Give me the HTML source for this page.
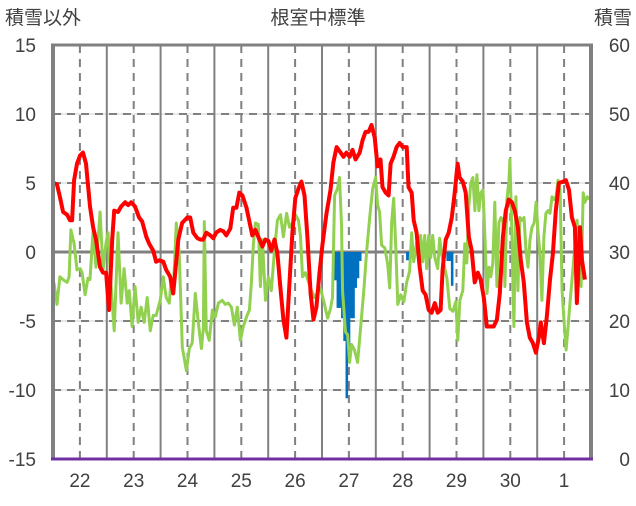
<!DOCTYPE html>
<html><head><meta charset="utf-8"><style>
body{margin:0;background:#fff;}
svg text{font-family:"Liberation Sans","Noto Sans CJK JP",sans-serif;fill:#404040;}
</style></head><body>
<svg id="c" width="636" height="501" viewBox="0 0 636 501">
<g id="grid"></g>
<g id="bars"></g>
<g id="lines"></g>
<g id="axes"></g>
<text x="318" y="24" font-size="19" text-anchor="middle">根室中標準</text>
<text x="5" y="24" font-size="19">積雪以外</text>
<text x="632" y="24" font-size="19" text-anchor="end">積雪</text>
</svg>
<script>
const days = ["22","23","24","25","26","27","28","29","30","1"];
const leftTicks = [15,10,5,0,-5,-10,-15];
const rightTicks = [60,50,40,30,20,10,0];
const redT = [0.4,1.8,3.1,4.5,6.3,7.6,8.5,9.4,10.7,12.1,13.4,14.7,16.5,17.9,19.2,21.0,22.3,23.7,25.0,26.4,27.3,29.0,30.4,32.2,33.5,34.9,36.6,38.4,39.8,41.6,42.9,44.7,46.0,47.4,49.2,50.5,52.3,53.6,54.5,55.9,57.6,59.9,61.2,62.6,64.4,65.7,67.0,68.4,70.2,71.5,72.8,74.6,76.0,77.3,79.1,80.4,81.8,83.1,84.5,86.3,87.6,88.9,90.3,91.6,93.4,94.7,96.1,97.4,98.8,100.1,101.4,102.8,104.1,105.5,106.8,108.1,109.5,110.8,112.2,113.5,114.9,116.2,117.5,118.9,120.2,122.0,123.8,125.1,126.5,128.3,129.6,130.9,132.3,133.6,135.0,136.8,138.1,139.4,140.8,142.1,143.5,144.8,146.1,147.0,148.4,149.7,150.6,151.9,153.3,154.6,156.0,157.8,158.6,160.0,160.9,162.2,163.6,164.9,166.2,167.6,168.9,170.3,171.6,172.9,173.8,175.2,176.5,177.9,179.2,180.5,181.4,182.8,184.1,185.5,186.8,188.1,189.5,190.8,192.2,193.5,195.3,196.6,198.0,199.3,200.7,202.0,203.3,204.7,206.0,207.4,208.7,210.0,211.4,212.7,214.1,215.4,216.7,217.6,219.0,220.3,221.7,223.0,224.3,225.7,227.5,228.8,230.2,231.5,232.8,233.7,235.1,236.0,237.3];
const redV = [5.0,4.9,4.0,2.9,2.7,2.3,2.3,5.2,6.4,7.0,7.2,6.4,3.3,1.8,0.9,-1.1,-1.5,-1.5,-4.2,0.9,3.0,2.9,3.3,3.6,3.4,3.6,3.3,2.5,2.2,1.1,0.6,0.1,-0.7,-0.6,-0.7,-1.3,-1.8,-3.0,-1.5,0.9,2.1,2.5,2.5,1.4,1.0,0.9,0.9,1.4,1.2,1.0,1.4,1.6,1.5,1.2,1.7,3.2,3.2,4.3,4.1,3.2,2.2,1.2,1.6,1.1,0.4,0.9,0.8,0.1,0.9,-0.1,-2.5,-4.9,-6.2,-2.2,1.4,3.9,4.6,5.1,4.1,1.1,-3.0,-4.9,-4.0,-1.5,0.5,2.8,4.5,6.5,7.6,7.2,6.9,7.2,6.9,7.4,6.7,7.2,8.1,8.7,8.7,9.2,8.3,6.2,6.7,4.7,4.3,4.1,6.4,6.9,7.6,7.9,7.6,7.6,4.7,4.3,2.3,1.4,-1.1,-2.8,-3.1,-4.2,-4.4,-3.7,-4.4,-4.2,-1.3,0.9,1.4,2.5,4.3,6.4,5.4,5.1,4.3,1.1,0.1,-2.2,-1.5,-2.0,-3.3,-5.4,-5.4,-5.4,-4.9,-3.0,1.1,3.0,3.8,3.6,3.0,1.8,-0.6,-2.2,-5.1,-6.2,-6.6,-7.3,-6.2,-5.1,-6.6,-4.7,-2.0,-0.1,3.0,5.0,5.1,5.2,4.5,2.5,1.8,-3.7,1.8,-0.6,-2.0];
const greenT = [0.4,1.8,3.1,4.5,6.3,7.2,8.0,9.4,10.7,12.1,13.0,14.3,15.6,16.5,17.9,19.2,21.0,22.3,23.7,24.6,25.5,27.3,29.0,30.4,31.7,33.1,34.0,35.3,36.6,38.0,39.3,40.7,42.0,43.4,44.7,46.0,47.8,49.2,50.5,51.9,52.7,53.6,55.0,56.3,57.7,59.5,60.8,62.1,63.5,64.8,66.2,67.1,67.5,68.4,69.7,71.1,72.4,73.8,75.5,76.9,78.2,79.6,80.9,82.2,83.6,84.9,86.3,87.6,88.5,89.4,90.3,91.6,92.5,93.4,94.8,96.1,97.4,98.8,100.1,101.5,102.8,104.2,105.5,106.8,108.2,109.5,110.4,111.3,112.6,114.0,115.3,116.7,119.3,121.1,122.5,123.8,124.7,125.6,126.9,127.8,128.7,129.2,130.5,131.4,132.3,133.2,134.5,135.9,137.2,138.6,139.9,141.3,142.6,143.9,144.8,145.7,146.6,148.0,149.3,150.2,151.1,152.0,152.9,153.8,155.1,156.5,157.8,159.1,160.0,160.9,162.3,163.2,164.0,164.9,165.8,166.7,167.6,168.5,169.4,170.3,171.6,172.5,173.4,174.8,175.7,177.0,178.4,179.7,180.6,181.5,182.8,183.7,184.6,185.5,186.4,187.3,188.2,189.1,190.0,190.9,191.8,192.7,193.6,194.5,195.3,196.2,197.1,198.0,198.9,199.8,200.7,201.6,202.5,203.4,203.8,204.7,205.6,206.5,207.4,208.3,209.2,210.1,211.0,211.9,212.8,213.7,214.6,215.5,216.4,217.2,218.1,219.0,219.9,220.8,221.7,222.6,223.5,224.4,225.3,226.2,227.1,228.0,228.9,229.8,230.7,232.0,232.9,233.8,234.7,235.6,236.5,237.3,238.3,239.1];
const greenV = [-2.2,-3.8,-1.8,-2.0,-2.2,-1.8,1.6,0.6,-1.3,-1.2,-1.5,-3.1,-1.9,-2.0,1.6,-1.1,2.9,-1.3,0.7,1.4,-1.5,-5.7,1.4,-3.7,-1.2,-3.7,-2.8,-5.4,-2.5,-5.1,-4.0,-5.1,-3.3,-5.7,-4.6,-4.6,-3.5,-1.8,-3.3,-3.7,-2.0,-3.0,2.1,-0.1,-6.9,-8.6,-7.0,-6.6,-3.0,-5.1,-7.0,-5.5,2.2,-5.7,-6.4,-4.2,-4.7,-3.7,-3.5,-3.8,-3.7,-4.0,-5.3,-4.0,-6.4,-5.4,-4.7,-4.2,-2.2,0.6,2.1,2.0,-2.5,0.9,-3.5,-1.8,-2.8,0.1,2.3,2.7,1.1,2.8,1.8,2.1,2.7,2.3,1.1,-1.8,-1.5,-2.2,-2.8,-3.3,-2.6,-3.8,-4.8,-4.1,-3.3,4.1,4.6,5.4,2.0,-2.9,-5.8,-6.0,-8.0,-6.7,-7.1,-8.0,-5.5,-2.9,0.0,2.5,4.6,5.4,3.4,2.9,0.5,0.3,-0.9,-2.6,2.2,3.9,0.3,-3.8,-3.1,-3.6,-2.2,-1.4,1.4,-0.7,0.7,-0.9,1.2,-0.7,1.2,-1.2,1.2,-0.4,1.2,-0.4,-1.2,1.0,-0.2,-1.2,-1.9,-4.1,-4.3,-3.6,-6.4,-3.5,-2.8,0.6,-0.8,3.3,5.0,5.4,3.0,5.6,3.0,4.3,4.5,0.9,-3.0,-1.1,-1.8,-0.8,3.6,-2.5,2.1,2.5,2.3,-2.5,3.8,5.2,6.7,1.4,-5.4,4.0,-2.8,2.5,2.3,2.5,0.1,-1.1,0.9,1.8,2.1,3.6,1.4,-0.1,-3.5,1.1,2.8,3.0,2.8,4.0,3.8,4.0,5.2,4.5,-2.8,-5.1,-7.1,-5.4,-3.5,-1.1,0.6,2.3,-0.8,-2.5,4.3,3.6,4.0,3.8];
const snowT = [125,126,127,128,129,130,131,132,133,134,135,136,137,158,159,176,177,178];
const snowV = [4.1,4.1,8.1,8.1,9.6,12.9,21.2,16,9.6,9.6,5.2,3.8,1.3,1.2,1.2,1.3,1.3,4.9];

const X0=53,X1=591,Y0=45,Y1=459,HOURS=240;
const xs=h=>X0+(X1-X0)*h/HOURS;
const yL=v=>Y0+(15-v)/30*(Y1-Y0);
const yR=v=>Y0+(60-v)/60*(Y1-Y0);
const NS="http://www.w3.org/2000/svg";
function mk(tag,attrs,parent){const e=document.createElementNS(NS,tag);for(const k in attrs)e.setAttribute(k,attrs[k]);parent.appendChild(e);return e;}
const gGrid=document.getElementById('grid'),gAxes=document.getElementById('axes'),gBars=document.getElementById('bars'),gLines=document.getElementById('lines');

leftTicks.forEach(v=>{
  const y=yL(v);
  if(v!==15&&v!==-15&&v!==0){
    const l=mk('line',{x1:X0,x2:X1,y1:y,y2:y,stroke:'#d0d0d0','stroke-width':1},gGrid);
    
    
    const d=mk('line',{x1:X0,x2:X1,y1:y,y2:y,stroke:'#808080','stroke-width':2,'stroke-dasharray':'8,6'},gGrid);
    
    
  }
  const t=mk('text',{x:36,y:y+7,'font-size':19,'text-anchor':'end'},gAxes);
  t.textContent=v;
  
  
});
rightTicks.forEach(v=>{
  const t=mk('text',{x:630,y:yR(v)+7,'font-size':19,'text-anchor':'end'},gAxes);
  t.textContent=v;
  
  
});
days.forEach((d,i)=>{
  const xm=xs(i*24), xn=xs(i*24+12);
  if(i>0){const l=mk('line',{x1:xm,x2:xm,y1:Y0,y2:Y1,stroke:'#808080','stroke-width':2},gGrid);
    
    }
  const n=mk('line',{x1:xn,x2:xn,y1:Y0,y2:Y1,stroke:'#808080','stroke-width':2,'stroke-dasharray':'8,6'},gGrid);
  
  
  const t=mk('text',{x:xn,y:487,'font-size':19,'text-anchor':'middle'},gAxes);
  t.textContent=d;
  
  
});
const zl=mk('line',{x1:X0,x2:X1,y1:yL(0),y2:yL(0),stroke:'#808080','stroke-width':3},gGrid);



const bw=(X1-X0)/HOURS;
snowT.forEach((h,i)=>{
  const r=mk('rect',{x:xs(h)-bw/2,y:yR(30),width:bw+0.3,height:yR(30-snowV[i])-yR(30),fill:'#0070C0'},gBars);
  
  
});
function drawSeries(T,V,color,w,name){
  const n=Math.min(T.length,V.length);
  let d='';
  for(let i=0;i<n;i++) d+=(i?'L':'M')+xs(T[i]).toFixed(1)+','+yL(V[i]).toFixed(1);
  const p=mk('path',{d:d,fill:'none',stroke:color,'stroke-width':w,'stroke-linejoin':'round'},gLines);
  
  
}
drawSeries(greenT,greenV,'#92D050',3,'green-series-line');
drawSeries(redT,redV,'#FF0000',4,'red-series-line');

const topBorder=mk('line',{x1:X0-2,x2:X1+2,y1:Y0,y2:Y0,stroke:'#808080','stroke-width':3},gAxes);


const leftAxis=mk('line',{x1:X0,x2:X0,y1:Y0,y2:Y1,stroke:'#808080','stroke-width':4},gAxes);


const rightAxis=mk('line',{x1:X1,x2:X1,y1:Y0,y2:Y1,stroke:'#808080','stroke-width':4},gAxes);


const bottomAxis=mk('line',{x1:X0-2,x2:X1+2,y1:Y1,y2:Y1,stroke:'#7030A0','stroke-width':3},gAxes);


</script>
</body></html>
